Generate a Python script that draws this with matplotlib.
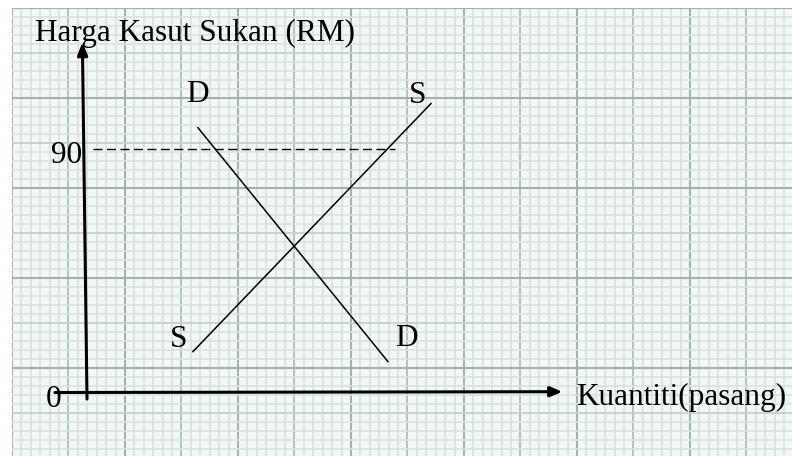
import numpy as np
import matplotlib.pyplot as plt

# Demand / supply diagram (price in RM, quantity in arbitrary units)
demand_q = [40.9, 111.0]
demand_p = [97.7, 11.4]
supply_q = [39.1, 126.9]
supply_p = [15.1, 106.6]
price_level = 90
price_line_q = [2.2, 113.6]

curve_labels = ["D", "S", "S", "D"]
label_q = [40.6, 122.1, 33.9, 118.0]
label_p = [107.2, 106.8, 16.8, 17.2]   # text baselines

y_title = "Harga Kasut Sukan (RM)"
x_title = "Kuantiti(pasang)"

W, H = 792, 457
PX = 2.711           # pixels per data unit
ORIGIN = (87, 392.5)  # pixel position of (0, 0)

plt.rcParams['font.family'] = ['Liberation Serif', 'DejaVu Serif']
FS = 22.5

fig = plt.figure(figsize=(W / 100, H / 100), dpi=100)
fig.patch.set_facecolor('white')

# graph paper background (pixel coordinates)
bg = fig.add_axes([12 / W, 1 / H, 780 / W, 448 / H])
bg.set_xlim(12, 792)
bg.set_ylim(457 - 1, 8)
bg.axis('off')
bg.add_patch(plt.Rectangle((12, 8), 780, 448, color='#f2f9f4', zorder=0))
for i, x in enumerate(np.arange(12, 792, 56.5 / 6)):
    if i % 12 == 0:
        c, lw = '#a3b5aa', 1.5
    elif i % 6 == 0:
        c, lw = '#b4c4ba', 1.4
    else:
        c, lw = '#dbe3de', 1.2
    bg.axvline(x, color=c, lw=lw, zorder=1)
for i, y in enumerate(np.arange(8, 457, 9.0)):
    if i % 10 == 0:
        c, lw = '#a3b3a9', 1.5
    elif i % 5 == 0:
        c, lw = '#c6d2cb', 1.3
    else:
        c, lw = '#dbe3de', 1.2
    bg.axhline(y, color=c, lw=lw, zorder=1)

# main diagram axes
ax = fig.add_axes([0, 0, 1, 1])
ax.patch.set_alpha(0)
ax.set_xlim(-ORIGIN[0] / PX, (W - ORIGIN[0]) / PX)
ax.set_ylim(-(H - ORIGIN[1]) / PX, ORIGIN[1] / PX)
ax.axis('off')

# axes arrows
ax.annotate('', xy=(-1.7, 129.2), xytext=(0.0, -2.4),
            arrowprops=dict(arrowstyle='-|>,head_length=0.75,head_width=0.3',
                            lw=2.2, color='black', shrinkA=0, shrinkB=0))
ax.annotate('', xy=(175.3, 0.3), xytext=(-11.8, 0.0),
            arrowprops=dict(arrowstyle='-|>,head_length=0.7,head_width=0.3',
                            lw=2.2, color='black', shrinkA=0, shrinkB=0))

# curves
ax.plot(demand_q, demand_p, color='black', lw=1.1)
ax.plot(supply_q, supply_p, color='black', lw=1.1)
ax.plot(price_line_q, [price_level, price_level], color='black', lw=1.0,
        dashes=(6.5, 3.2))

for t, q, p in zip(curve_labels, label_q, label_p):
    ax.text(q, p, t, fontsize=FS, ha='center', va='baseline')

ax.text(-1.8, 84.6, str(price_level), fontsize=FS, ha='right', va='baseline')
ax.text(-12.2, -5.3, "0", fontsize=FS, ha='center', va='baseline')
ax.text((35 - ORIGIN[0]) / PX, (ORIGIN[1] - 41) / PX, y_title,
        fontsize=FS, ha='left', va='baseline')
ax.text((576 - ORIGIN[0]) / PX, (ORIGIN[1] - 405) / PX, x_title,
        fontsize=FS, ha='left', va='baseline')

fig.savefig('out.png', dpi=100)
